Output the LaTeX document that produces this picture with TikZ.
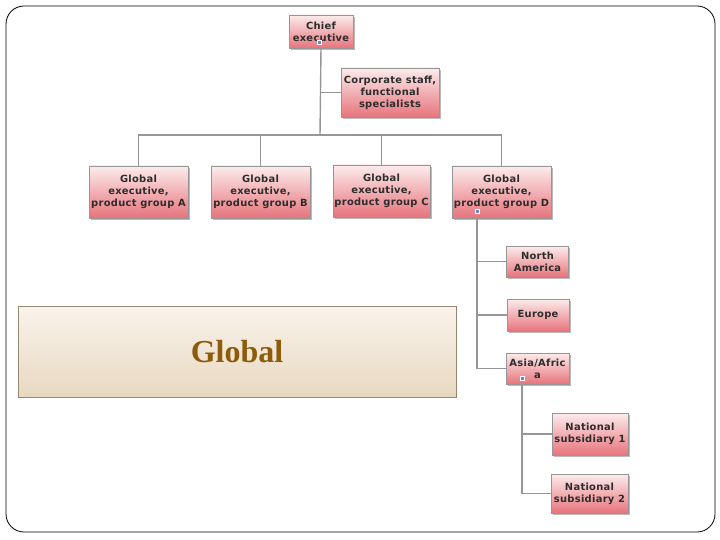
\documentclass[tikz,border=0pt]{standalone}
\usepackage{fontspec}
\setmainfont{Liberation Serif}
\newfontfamily\boxfont[LetterSpace=3]{DejaVu Sans}
\usetikzlibrary{shadows}
\definecolor{boxtop}{RGB}{252,236,236}
\definecolor{boxbot}{RGB}{231,116,124}
\definecolor{boxline}{RGB}{150,150,150}
\definecolor{conn}{RGB}{150,150,150}
\definecolor{txt}{RGB}{45,45,45}
\definecolor{gtop}{RGB}{249,243,236}
\definecolor{gbot}{RGB}{232,216,192}
\definecolor{gline}{RGB}{150,135,115}
\definecolor{gtext}{RGB}{140,92,10}
\definecolor{mark}{RGB}{110,135,200}
\begin{document}
\begin{tikzpicture}[x=1pt,y=-1pt,
  orgbox/.style={draw=boxline, line width=0.6pt, top color=boxtop, bottom color=boxbot,
    drop shadow={shadow xshift=1.8pt, shadow yshift=-1.8pt, fill=black!45, opacity=0.6},
    align=center, inner sep=0pt, font=\boxfont\bfseries\fontsize{9.9}{12}\selectfont, text=txt},
  conn/.style={draw=conn, line width=1.4pt},
  markbox/.style={fill=mark, draw=white, line width=0.4pt, minimum size=4.5pt, inner sep=0pt}]
\useasboundingbox (0,0) rectangle (720,540);
\draw[line width=0.8pt, rounded corners=18pt] (6,6) rectangle (715,532);

% nodes
\node[orgbox, minimum width=64pt, minimum height=33pt] (ce) at (321,31.5) {Chief\\executive};
\node[orgbox, minimum width=98pt, minimum height=49pt] (cs) at (390,92.5) {Corporate staff,\\functional\\specialists};
\node[orgbox, minimum width=99pt, minimum height=52pt] (ga) at (138.5,192) {Global\\executive,\\product group A};
\node[orgbox, minimum width=99pt, minimum height=52pt] (gb) at (260.5,192) {Global\\executive,\\product group B};
\node[orgbox, minimum width=97pt, minimum height=52pt] (gc) at (381.5,191) {Global\\executive,\\product group C};
\node[orgbox, minimum width=99pt, minimum height=52pt] (gd) at (501.5,192) {Global\\executive,\\product group D};
\node[orgbox, minimum width=62pt, minimum height=31pt] (na) at (537.5,261.5) {North\\America};
\node[orgbox, minimum width=62pt, minimum height=32pt] (eu) at (538,315) {Europe};
\node[orgbox, minimum width=63pt, minimum height=31pt] (as) at (537.5,368.5) {Asia/Afric\\a};
\node[orgbox, minimum width=76pt, minimum height=42pt] (n1) at (590,434) {National\\subsidiary 1};
\node[orgbox, minimum width=77pt, minimum height=39pt] (n2) at (589.5,493.5) {National\\subsidiary 2};

% connectors
\coordinate (bus) at (320,135);
\coordinate (dt) at (477,218);
\coordinate (at) at (522,384);
\draw[conn] (ce.south) -- (bus);
\draw[conn] (ce.south |- cs.west) -- (cs.west);
\draw[conn] (ga.north) |- (bus) -| (gd.north);
\draw[conn] (gb.north) -- (gb.north |- bus);
\draw[conn] (gc.north) -- (gc.north |- bus);
\draw[conn] (dt) |- (na.west);
\draw[conn] (dt) |- (eu.west);
\draw[conn] (dt) |- (as.west);
\draw[conn] (at) |- (n1.west);
\draw[conn] (at) |- (n2.west);

% collapse markers
\node[markbox] (m1) at (319,42) {};
\node[markbox] (m2) at (477,211) {};
\node[markbox] (m3) at (522,378) {};

% Global box
\node[draw=gline, line width=0.8pt, top color=gtop, bottom color=gbot,
  minimum width=438pt, minimum height=91pt, inner sep=0pt,
  font=\bfseries\fontsize{32}{34}\selectfont, text=gtext] (gl) at (237,351.5) {Global};
\end{tikzpicture}
\end{document}
